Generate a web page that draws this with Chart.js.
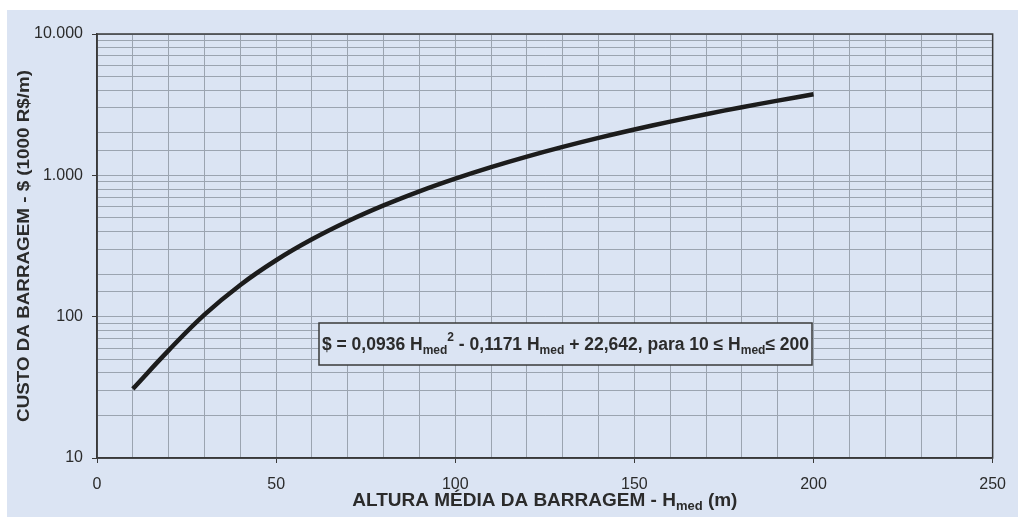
<!DOCTYPE html>
<html>
<head>
<meta charset="utf-8">
<script src="https://cdn.jsdelivr.net/npm/chart.js@4/dist/chart.umd.min.js"></script>
<style>
  html, body { margin: 0; padding: 0; background: #ffffff; }
  canvas { display: block; }
</style>
</head>
<body>
<canvas id="c" width="1018" height="517"></canvas>
<script>
// Dam height (m) and dam cost (1000 R$/m)
const heights = [10, 20, 30, 40, 50, 60, 70, 80, 90, 100, 110, 120, 130, 140, 150, 160, 170, 180, 190, 200];
const costs = [30.83, 57.74, 103.37, 167.72, 250.79, 352.58, 473.09, 612.31, 770.26, 946.93,
               1142.32, 1356.43, 1589.26, 1840.81, 2111.08, 2400.07, 2707.78, 3034.20, 3379.35, 3743.22];
const xTickLabels = [0, 50, 100, 150, 200, 250];
const yTickLabels = [10, 100, 1000, 10000];

const FONT = '"Liberation Sans", Arial, Helvetica, sans-serif';
const BG = '#dbe4f3';
const GRID = '#9ba4b0';
const TEXT = '#2b2b2b';

function thousands(v) {
  return String(v).replace(/\B(?=(\d{3})+(?!\d))/g, '.');
}
function isXLabel(v) { return xTickLabels.some(t => Math.abs(t - v) < 1e-6); }
function isYLabel(v) { return yTickLabels.some(t => Math.abs(t - v) < 1e-6); }

// Draw a run of text pieces (normal / subscript / superscript) on one baseline
function drawRich(ctx, parts, cx, baseline, align) {
  let total = 0;
  parts.forEach(p => { ctx.font = 'bold ' + p.size + 'px ' + FONT; p.w = ctx.measureText(p.t).width; total += p.w; });
  let x = align === 'center' ? cx - total / 2 : cx;
  ctx.textAlign = 'left';
  ctx.textBaseline = 'alphabetic';
  parts.forEach(p => {
    ctx.font = 'bold ' + p.size + 'px ' + FONT;
    ctx.fillText(p.t, x, baseline + (p.dy || 0));
    x += p.w;
  });
  return total;
}

const decor = {
  id: 'decor',
  beforeDraw(chart) {
    const ctx = chart.ctx;
    ctx.save();
    ctx.fillStyle = '#ffffff';
    ctx.fillRect(0, 0, chart.width, chart.height);
    ctx.fillStyle = BG;
    ctx.fillRect(7, 10, chart.width - 7, chart.height - 10);
    ctx.restore();
  },
  beforeDatasetsDraw(chart) {
    const ctx = chart.ctx, a = chart.chartArea;
    ctx.save();
    ctx.strokeStyle = '#3a3a3a';
    ctx.lineWidth = 1.5;
    ctx.strokeRect(a.left, a.top, a.right - a.left, a.bottom - a.top);
    ctx.restore();
  },
  afterDraw(chart) {
    const ctx = chart.ctx, a = chart.chartArea;
    ctx.save();
    ctx.fillStyle = TEXT;

    // Y axis title
    ctx.save();
    ctx.translate(24, (a.top + a.bottom) / 2);
    ctx.rotate(-Math.PI / 2);
    ctx.scale(1.14, 1);
    ctx.font = 'bold 16.5px ' + FONT;
    ctx.textAlign = 'center';
    ctx.textBaseline = 'middle';
    ctx.fillText('CUSTO DA BARRAGEM - $ (1000 R$/m)', 0, 0);
    ctx.restore();

    // X axis title
    drawRich(ctx, [
      { t: 'ALTURA MÉDIA DA BARRAGEM - H', size: 19 },
      { t: 'med', size: 13, dy: 4 },
      { t: ' (m)', size: 19 }
    ], (a.left + a.right) / 2, 506, 'center');

    // Equation box
    const bx = 319, by = 323, bw = 493, bh = 42;
    ctx.fillStyle = BG;
    ctx.fillRect(bx, by, bw, bh);
    ctx.strokeStyle = '#3a3a3a';
    ctx.lineWidth = 1.5;
    ctx.strokeRect(bx, by, bw, bh);
    ctx.fillStyle = TEXT;
    drawRich(ctx, [
      { t: '$ = 0,0936 H', size: 17.5 },
      { t: 'med', size: 12, dy: 4 },
      { t: '2', size: 12, dy: -9 },
      { t: ' - 0,1171 H', size: 17.5 },
      { t: 'med', size: 12, dy: 4 },
      { t: ' + 22,642, para 10 \u2264 H', size: 17.5 },
      { t: 'med', size: 12, dy: 4 },
      { t: '\u2264 200', size: 17.5 }
    ], bx + bw / 2, 350, 'center');
    ctx.restore();
  }
};

new Chart(document.getElementById('c'), {
  type: 'line',
  data: {
    datasets: [{
      data: heights.map((h, i) => ({ x: h, y: costs[i] })),
      borderColor: '#1c1c1c',
      borderWidth: 4.5,
      pointRadius: 0,
      tension: 0.4,
      fill: false
    }]
  },
  options: {
    responsive: false,
    animation: false,
    layout: { padding: { top: 34, right: 13, left: 0, bottom: 0 } },
    plugins: { legend: { display: false }, tooltip: { enabled: false } },
    scales: {
      x: {
        type: 'linear',
        min: 0, max: 250,
        afterFit(s) { s.height = 59; },
        ticks: {
          stepSize: 10, maxTicksLimit: 100, autoSkip: false, maxRotation: 0,
          padding: 12,
          color: TEXT,
          font: { family: FONT, size: 16 },
          callback: v => isXLabel(v) ? String(v) : ''
        },
        grid: {
          color: GRID, lineWidth: 1, tickLength: 5,
          tickColor: c => (c.tick && isXLabel(c.tick.value)) ? '#3a3a3a' : 'rgba(0,0,0,0)'
        },
        border: { color: '#3a3a3a', width: 1.5 }
      },
      y: {
        type: 'logarithmic',
        min: 10, max: 10000,
        afterFit(s) { s.width = 97; },
        ticks: {
          autoSkip: false,
          padding: 9,
          color: TEXT,
          font: { family: FONT, size: 16 },
          callback: v => isYLabel(v) ? thousands(v) : ''
        },
        grid: {
          color: GRID, lineWidth: 1, tickLength: 5,
          tickColor: c => (c.tick && isYLabel(c.tick.value)) ? '#3a3a3a' : 'rgba(0,0,0,0)'
        },
        border: { color: '#3a3a3a', width: 1.5 }
      }
    }
  },
  plugins: [decor]
});
</script>
</body>
</html>
